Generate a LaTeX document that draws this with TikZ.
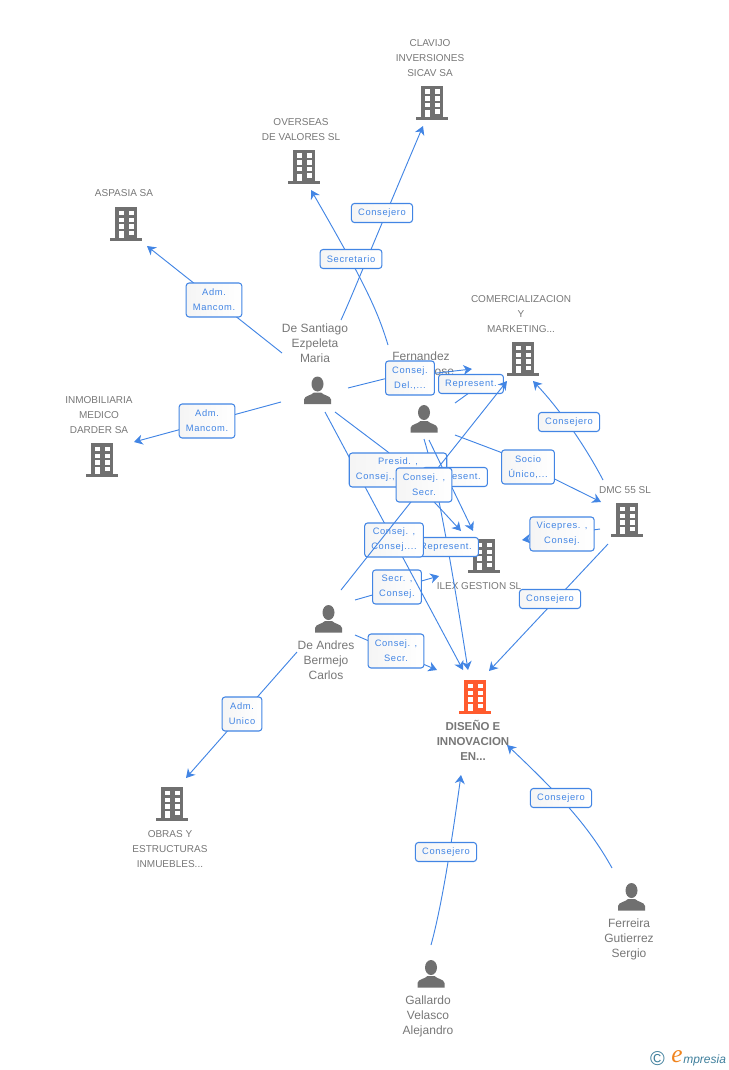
\documentclass[tikz,border=0pt]{standalone}
\usepackage{fontspec}
\setmainfont{Liberation Sans}
\newfontfamily\lblfont[LetterSpace=7]{Liberation Sans}
\newfontfamily\logofont{Liberation Serif}
\usetikzlibrary{arrows.meta}
\definecolor{linkblue}{HTML}{4285E4}
\definecolor{iconGray}{HTML}{707070}
\definecolor{iconRed}{HTML}{FF5B2E}
\definecolor{nameGray}{HTML}{777777}
\definecolor{logoTeal}{HTML}{3F7F9C}
\definecolor{logoOrange}{HTML}{F0841E}
% building icon, drawn inside its own node
\newcommand\bldshape[1]{%
\begin{scope}[shift={(path picture bounding box.center)}]
\fill[#1] (-11,-17) rectangle (11,14);
\fill[#1] (-16,14) rectangle (16,17);
\foreach \wy in {-13.5,-6.5,0}{
\fill[white] (-7,\wy) rectangle (-2,\wy+4.5);
\fill[white] (2.5,\wy) rectangle (7.5,\wy+4.5);
}
\fill[white] (-7,7) rectangle (-2,14);
\fill[white] (2.5,6.5) rectangle (7.5,11);
\end{scope}}
% person icon, the same way
\newcommand\perShape{%
\begin{scope}[shift={(path picture bounding box.center)}]
\fill[iconGray] (0,-6.5) ellipse (6 and 7.5);
\fill[iconGray] (-13.5,13.5) -- (-13.5,9) .. controls (-13,5) and (-6,5) .. (-3.5,2) -- (3.5,2) .. controls (6,5) and (13,5) .. (13.5,9) -- (13.5,13.5) -- cycle;
\end{scope}}
\tikzset{
bld/.style={inner sep=0pt, minimum width=25.5pt, minimum height=26.25pt, path picture={\bldshape{iconGray}}},
bldmain/.style={inner sep=0pt, minimum width=25.5pt, minimum height=26.25pt, path picture={\bldshape{iconRed}}},
per/.style={inner sep=0pt, minimum width=21pt, minimum height=21pt, path picture={\perShape}},
nametxt/.style={text=nameGray, align=center, inner sep=0pt, font=\fontsize{7.5}{11.25}\selectfont},
pertxt/.style={nametxt, font=\fontsize{9}{11.25}\selectfont},
lbl/.style={draw=linkblue, line width=.8pt, rounded corners=2.2pt, left color=black!4, right color=white, text=linkblue, align=center, inner xsep=5pt, inner ysep=1pt, minimum height=14.25pt, font=\lblfont\fontsize{7}{11.25}\selectfont},
lbltwo/.style={lbl, minimum height=25.5pt},
conn/.style={draw=linkblue, line width=.7pt},
arr/.style={conn, -{Stealth[length=6.5pt, width=7.5pt, inset=2pt]}},
}
\begin{document}
\begin{tikzpicture}[x=.75pt, y=-.75pt]
\useasboundingbox (0,0) rectangle (728,1070);
% companies
\node[bld] (bld0) at (432,103){};
\node[nametxt] (nam0) at (430,58){CLAVIJO\\INVERSIONES\\SICAV SA};
\node[bld] (bld1) at (304,167){};
\node[nametxt] (nam1) at (301,130){OVERSEAS\\DE VALORES SL};
\node[bld] (bld2) at (126,224){};
\node[nametxt] (nam2) at (124,193.5){ASPASIA SA};
\node[bld] (bld3) at (523,359){};
\node[nametxt] (nam3) at (521,314){COMERCIALIZACION\\Y\\MARKETING...};
\node[bld] (bld4) at (102,460){};
\node[nametxt] (nam4) at (99,415){INMOBILIARIA\\MEDICO\\DARDER SA};
\node[bld] (bld5) at (627,520){};
\node[nametxt] (nam5) at (625,490.5){DMC 55 SL};
\node[bld] (bld6) at (484,556){};
\node[nametxt] (nam6) at (479,586.5){ILEX GESTION SL};
\node[bld] (bld7) at (172,804){};
\node[nametxt] (nam7) at (170,849){OBRAS Y\\ESTRUCTURAS\\INMUEBLES...};
\node[bldmain] (bld8) at (475,697){};
\node[nametxt, font=\bfseries\fontsize{8.6}{11.25}\selectfont] (nam8) at (473,740.5){DISEÑO E\\INNOVACION\\EN...};
% people
\node[per] (per0) at (317.5,390.5){};
\node[pertxt] (nam9) at (315,343.5){De Santiago\\Ezpeleta\\Maria};
\node[per] (per1) at (424,419){};
\node[pertxt] (nam10) at (421,364){Fernandez\\\hspace*{35pt}ose};
\node[per] (per2) at (328.5,619){};
\node[pertxt] (nam11) at (326,660.5){De Andres\\Bermejo\\Carlos};
\node[per] (per3) at (631.5,897){};
\node[pertxt] (nam12) at (629,939){Ferreira\\Gutierrez\\Sergio};
\node[per] (per4) at (431,974){};
\node[pertxt] (nam13) at (428,1016){Gallardo\\Velasco\\Alejandro};
% free ends of the connectors
\coordinate (s0) at (341,320);
\coordinate (e0) at (423,126);
\coordinate (s1) at (388,345);
\coordinate (e1) at (311,190);
\coordinate (s2) at (282,353);
\coordinate (e2) at (147,246);
\coordinate (s3) at (281,402);
\coordinate (e3) at (134,442);
\coordinate (s4) at (348,388);
\coordinate (e4) at (472,369);
\coordinate (s5) at (455,403);
\coordinate (s6) at (455,435);
\coordinate (e6) at (601,502);
\coordinate (s7) at (603,480);
\coordinate (e7) at (533,381);
\coordinate (s8) at (600,529);
\coordinate (e8) at (522,540);
\coordinate (s9) at (608,544);
\coordinate (e9) at (489,671);
\coordinate (s10) at (612,868);
\coordinate (e10) at (507,745);
\coordinate (s11) at (431,945);
\coordinate (e11) at (461,775);
\coordinate (s12) at (297,652);
\coordinate (e12) at (186,778);
\coordinate (s13) at (355,635);
\coordinate (e13) at (437,670);
\coordinate (s14) at (355,600);
\coordinate (e14) at (439,576);
\coordinate (s15) at (325,412);
\coordinate (e15) at (463,670);
\coordinate (s16) at (335,412);
\coordinate (e16) at (461,531);
\coordinate (s17) at (429,440);
\coordinate (e17) at (473,531);
\coordinate (s18) at (424,439);
\coordinate (e18) at (468,670);
\coordinate (s19) at (341,590);
\coordinate (e19) at (507,381);
% connectors and their boxes
\draw[arr] (s0) .. controls (352,296) and (362,270) .. (e0);
\node[lbl] (lbl0) at (382,213){Consejero};
\draw[arr] (s1) .. controls (378,312) and (366,285) .. (e1);
\node[lbl] (lbl1) at (351,259){Secretario};
\draw[arr] (s2) -- (e2);
\node[lbltwo] (lbl2) at (214,300){Adm.\\Mancom.};
\draw[arr] (s3) -- (e3);
\node[lbltwo] (lbl3) at (207,421){Adm.\\Mancom.};
\draw[arr] (s4) -- (384,379) -- (e4);
\node[lbltwo] (lbl4) at (410,378){Consej.\\Del.,...};
\draw[conn] (s5) -- (480,385);
\node[lbl] (lbl5) at (471,384){Represent.};
\draw[arr] (s6) -- (500,452) -- (e6);
\node[lbltwo] (lbl6) at (528,467){Socio\\Único,...};
\draw[arr] (s7) .. controls (590,455) and (565,415) .. (e7);
\node[lbl] (lbl7) at (569,422){Consejero};
\draw[arr] (s8) -- (e8);
\node[lbltwo] (lbl8) at (562,534){Vicepres. ,\\Consej.};
\draw[arr] (s9) -- (e9);
\node[lbl] (lbl9) at (550,599){Consejero};
\draw[arr] (s10) .. controls (590,828) and (560,795) .. (e10);
\node[lbl] (lbl10) at (561,798){Consejero};
\draw[arr] (s11) .. controls (442,905) and (452,840) .. (e11);
\node[lbl] (lbl11) at (446,852){Consejero};
\draw[arr] (s12) -- (e12);
\node[lbltwo] (lbl12) at (242,714){Adm.\\Unico};
\draw[arr] (s13) -- (e13);
\node[lbltwo] (lbl13) at (396,651){Consej. ,\\Secr.};
\draw[arr] (s14) -- (e14);
\node[lbltwo] (lbl14) at (397,587){Secr. ,\\Consej.};
\draw[arr] (s18) .. controls (436,478) and (450,555) .. (e18);
\node[lbl] (lbl18) at (446,547){Represent.};
\draw[arr] (s15) -- (e15);
\node[lbltwo] (lbl15) at (394,540){Consej. ,\\Consej....};
\draw[arr] (s16) -- (388,452) -- (e16);
\node[lbltwo, minimum width=72pt] (lbl16) at (398,470){Presid. ,\\Consej.,\phantom{Consej....}};
\draw[arr] (s17) -- (e17);
\node[lbl] (lbl17) at (455,477){Represent.};
\draw[arr] (s19) -- (e19);
\node[lbltwo] (lbl19) at (424,485){Consej. ,\\Secr.};
% logo
\node[text=logoTeal, inner sep=0pt, font=\fontsize{15}{15}\selectfont] (logo0) at (657.5,1059){©};
\node[text=logoOrange, inner sep=0pt, font=\logofont\itshape\fontsize{19}{19}\selectfont] (logo1) at (677,1057){e};
\node[text=logoTeal, inner sep=0pt, anchor=west, font=\itshape\fontsize{9}{9}\selectfont] (logo2) at (683,1060){mpresia};
\end{tikzpicture}
\end{document}
